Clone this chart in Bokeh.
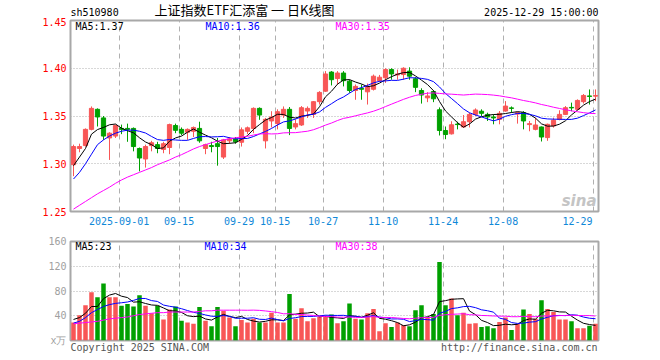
from bokeh.plotting import figure
from bokeh.layouts import column
from bokeh.models import Range1d, FixedTicker, Label, ColumnDataSource, PrintfTickFormatter
from bokeh.embed import file_html
from bokeh.resources import INLINE

# ---------------- data ----------------
opens = [1.299, 1.316, 1.319, 1.336, 1.357, 1.348, 1.327, 1.329, 1.337, 1.337,
         1.337, 1.316, 1.305, 1.319, 1.320, 1.315, 1.317, 1.340, 1.336, 1.333,
         1.334, 1.337, 1.316, 1.319, 1.321, 1.307, 1.324, 1.326, 1.3225, 1.334,
         1.337, 1.358, 1.324, 1.3448, 1.342, 1.351, 1.357, 1.3385, 1.3406, 1.3552,
         1.3517, 1.365, 1.376, 1.396, 1.3892, 1.395, 1.3865, 1.3767, 1.379, 1.3753,
         1.378, 1.387, 1.390, 1.3986, 1.393, 1.3934, 1.397, 1.389, 1.3767, 1.369,
         1.3757, 1.3565, 1.3348, 1.3313, 1.3415, 1.3385, 1.344, 1.3517, 1.355, 1.3517,
         1.349, 1.3465, 1.3552, 1.3585, 1.352, 1.3535, 1.341, 1.336, 1.3385, 1.3274,
         1.3396, 1.3465, 1.3517, 1.359, 1.357, 1.365, 1.371, 1.3708]
highs = [1.320, 1.321, 1.337, 1.360, 1.358, 1.350, 1.333, 1.341, 1.341, 1.342,
         1.338, 1.317, 1.320, 1.324, 1.323, 1.323, 1.342, 1.342, 1.338, 1.337,
         1.339, 1.344, 1.321, 1.323, 1.327, 1.326, 1.328, 1.328, 1.338, 1.339,
         1.359, 1.359, 1.348, 1.355, 1.357, 1.360, 1.3594, 1.3465, 1.3604, 1.360,
         1.3656, 1.376, 1.397, 1.397, 1.397, 1.397, 1.388, 1.383, 1.383, 1.384,
         1.3934, 1.393, 1.400, 1.400, 1.3986, 1.401, 1.401, 1.3906, 1.379, 1.375,
         1.377, 1.359, 1.339, 1.3445, 1.344, 1.351, 1.3535, 1.358, 1.357, 1.3535,
         1.3517, 1.3552, 1.3656, 1.360, 1.3545, 1.355, 1.3448, 1.348, 1.339, 1.342,
         1.3483, 1.356, 1.3604, 1.364, 1.3674, 1.373, 1.3778, 1.3778]
lows = [1.287, 1.312, 1.318, 1.335, 1.339, 1.325, 1.304, 1.327, 1.331, 1.323,
        1.313, 1.292, 1.296, 1.313, 1.311, 1.311, 1.310, 1.332, 1.330, 1.325,
        1.328, 1.322, 1.310, 1.312, 1.298, 1.305, 1.321, 1.321, 1.318, 1.331,
        1.332, 1.346, 1.316, 1.338, 1.336, 1.348, 1.330, 1.336, 1.3396, 1.348,
        1.348, 1.362, 1.3753, 1.382, 1.383, 1.381, 1.3743, 1.367, 1.367, 1.362,
        1.3767, 1.386, 1.3847, 1.388, 1.388, 1.388, 1.388, 1.375, 1.363, 1.3645,
        1.3645, 1.3296, 1.3257, 1.3306, 1.336, 1.3378, 1.338, 1.350, 1.350, 1.3448,
        1.3413, 1.3413, 1.3545, 1.3535, 1.342, 1.336, 1.334, 1.335, 1.3233, 1.324,
        1.3378, 1.3455, 1.351, 1.355, 1.356, 1.363, 1.362, 1.3656]
closes = [1.318, 1.318, 1.336, 1.358, 1.349, 1.329, 1.332, 1.340, 1.336, 1.336,
          1.318, 1.306, 1.318, 1.322, 1.316, 1.321, 1.341, 1.335, 1.332, 1.336,
          1.338, 1.324, 1.320, 1.318, 1.318, 1.325, 1.326, 1.323, 1.3355, 1.3376,
          1.358, 1.351, 1.3465, 1.349, 1.3545, 1.357, 1.337, 1.342, 1.3587, 1.358,
          1.365, 1.3747, 1.394, 1.388, 1.395, 1.387, 1.3767, 1.381, 1.378, 1.381,
          1.3917, 1.3906, 1.3986, 1.394, 1.394, 1.400, 1.3917, 1.380, 1.372, 1.371,
          1.368, 1.3348, 1.3306, 1.3408, 1.341, 1.344, 1.3517, 1.3563, 1.3528, 1.349,
          1.348, 1.3528, 1.3604, 1.358, 1.3535, 1.3448, 1.342, 1.3406, 1.328, 1.3413,
          1.3455, 1.3517, 1.3587, 1.3585, 1.3663, 1.3715, 1.3705, 1.3715]
volumes = [29, 41, 57, 78, 70, 92, 70, 70, 56, 59,
           55, 73, 56, 44, 56, 34, 50, 55, 32, 29,
           27, 54, 32, 23, 54, 48, 37, 23, 33, 29,
           35, 29, 29, 45, 29, 29, 75, 35, 52, 31,
           36, 38, 39, 42, 28, 31, 60, 35, 34, 44,
           51, 15, 28, 22, 29, 25, 23, 49, 57, 38,
           43, 127, 57, 68, 41, 45, 27, 28, 22, 23,
           20, 30, 37, 17, 27, 50, 43, 35, 65, 51,
           46, 34, 34, 31, 20, 20, 24, 27]

# moving-average values before a full window exists
ma5_head = [1.298, 1.307, 1.316, 1.331]
ma10_head = [1.284, 1.291, 1.300, 1.310, 1.320, 1.325, 1.329, 1.332, 1.334]
ma30_head = [1.2525, 1.2565, 1.2605, 1.2645, 1.2685, 1.272, 1.2755, 1.2795, 1.283, 1.286,
             1.2885, 1.291, 1.2935, 1.296, 1.299, 1.3015, 1.304, 1.307, 1.3095, 1.3125,
             1.3155, 1.318, 1.320, 1.322, 1.3237, 1.325, 1.3262, 1.3272, 1.328]
vma5_head = [34, 37, 44, 55]
vma10_head = [28, 31, 37, 45, 50, 55, 58, 60, 61]
vma30_head = [27, 28, 29, 30, 31, 33, 35, 36, 37, 38, 40, 42, 43, 44, 45, 45, 46, 46, 46, 46,
              46, 47, 48, 48, 49, 49, 49, 49, 49]

tick_index = [8, 18, 28, 34, 42, 52, 62, 72, 87]
tick_labels = ["2025-09-01", "09-15", "09-29", "10-15", "10-27", "11-10", "11-24", "12-08", "12-29"]
price_ticks = [1.25, 1.30, 1.35, 1.40, 1.45]
price_grid = [1.30, 1.35, 1.40]
vol_ticks = [0, 40, 80, 120, 160]
vol_grid = [40, 80, 120]

code = "sh510980"
title_text = "上证指数ETF汇添富 一 日K线图"
stamp = "2025-12-29 15:00:00"
price_legend = ["MA5:1.37", "MA10:1.36", "MA30:1.35"]
vol_legend = ["MA5:23", "MA10:34", "MA30:38"]
footer_texts = ["Copyright 2025 SINA.COM", "http://finance.sina.com.cn"]

# ---------------- helpers ----------------
def moving_avg(vals, w, head):
    out = []
    for i in range(len(vals)):
        if i < len(head):
            out.append(head[i])
        else:
            out.append(sum(vals[i - w + 1:i + 1]) / w)
    return out

n = len(closes)
xs = list(range(n))
UP = "#f85656"
DOWN = "#00a000"
colors = [UP if c >= o else DOWN for o, c in zip(opens, closes)]
src = ColumnDataSource(dict(
    x=xs, top=[max(o, c) for o, c in zip(opens, closes)],
    bottom=[min(o, c) for o, c in zip(opens, closes)],
    high=highs, low=lows, color=colors, vol=volumes))

ma5 = moving_avg(closes, 5, ma5_head)
ma10 = moving_avg(closes, 10, ma10_head)
ma30 = moving_avg(closes, 30, ma30_head)
vma5 = moving_avg(volumes, 5, vma5_head)
vma10 = moving_avg(volumes, 10, vma10_head)
vma30 = moving_avg(volumes, 30, vma30_head)

MONO = "DejaVu Sans Mono"
FRAME = "#a8a8a8"
GRID = "#b0b0b0"
DATE_BLUE = "#1088d8"
LINE_COLORS = ["#000000", "#0000ff", "#ff00ff"]

grid_x = [i - 0.4 for i in tick_index]
label_x = grid_x[:-1] + [grid_x[-1] - 2.6]

xr = Range1d(-0.5, n - 0.5)

W = 656
LEFT = 70
FRAME_W = 528
RIGHT = W - LEFT - FRAME_W
HEAD_H = 17
SLOT = FRAME_W / n          # pixels per trading day


def style_common(p):
    p.background_fill_color = "white"
    p.border_fill_color = "white"
    p.outline_line_color = FRAME
    p.outline_line_width = 2
    p.xgrid.ticker = FixedTicker(ticks=grid_x)
    p.xgrid.grid_line_color = GRID
    p.xgrid.grid_line_dash = "5 4"
    p.xgrid.grid_line_width = 1
    p.ygrid.grid_line_color = GRID
    p.ygrid.grid_line_dash = "1 2"
    p.ygrid.grid_line_width = 1
    for ax in [p.xaxis[0], p.yaxis[0]]:
        ax.axis_line_color = None
        ax.major_tick_line_color = None
        ax.minor_tick_line_color = None
        ax.major_tick_in = 0
        ax.major_tick_out = 0
        ax.major_label_text_font = MONO
        ax.major_label_text_font_size = "10px"


# ---------------- header strip (frame aligned with the panels below) ----------------
head = figure(width=W, height=HEAD_H, x_range=Range1d(LEFT, LEFT + FRAME_W),
              y_range=Range1d(HEAD_H, 0), output_backend="svg", toolbar_location=None,
              min_border_left=LEFT, min_border_right=RIGHT, min_border_top=0, min_border_bottom=0)
head.axis.visible = False
head.grid.visible = False
head.outline_line_color = None
head.background_fill_color = "white"
head.border_fill_color = "white"
head.add_layout(Label(x=LEFT, y=12, text=code, text_font=MONO, text_font_size="10px",
                      text_color="#000000", text_baseline="middle"))
head.add_layout(Label(x=244, y=8.5, text=title_text, text_font="Noto Sans CJK SC",
                      text_font_size="13px", text_color="#000000",
                      text_baseline="middle", text_align="center"))
head.add_layout(Label(x=LEFT + FRAME_W, y=12, text=stamp, text_font=MONO,
                      text_font_size="10px", text_color="#000000",
                      text_baseline="middle", text_align="right"))

# ---------------- price panel ----------------
p1 = figure(width=W, height=20 - HEAD_H + 191 + 20, x_range=xr, y_range=Range1d(1.25, 1.45),
            output_backend="svg", toolbar_location=None,
            min_border_left=LEFT, min_border_right=RIGHT, min_border_top=20 - HEAD_H,
            min_border_bottom=20)
style_common(p1)
p1.ygrid.ticker = FixedTicker(ticks=price_grid)
p1.yaxis.ticker = FixedTicker(ticks=price_ticks)
p1.yaxis.formatter = PrintfTickFormatter(format="%.2f")
p1.yaxis.major_label_text_color = "#ff0000"
p1.yaxis.major_label_standoff = 4
p1.xaxis.ticker = FixedTicker(ticks=label_x)
p1.xaxis.major_label_overrides = {v: t for v, t in zip(label_x, tick_labels)}
p1.xaxis.major_label_text_color = DATE_BLUE
p1.xaxis.major_label_standoff = 5

p1.segment(x0="x", y0="low", x1="x", y1="high", color="color", line_width=1, source=src)
p1.vbar(x="x", top="top", bottom="bottom", width=0.7, fill_color="color",
        line_color="color", line_width=1, source=src)
for vals, col in zip([ma5, ma10, ma30], LINE_COLORS):
    p1.line(xs, vals, line_color=col, line_width=1)

for txt, xpos, col in zip(price_legend, [5, 135, 265], LINE_COLORS):
    p1.add_layout(Label(x=xpos, y=185, x_units="screen", y_units="screen", text=txt,
                        text_font=MONO, text_font_size="10px", text_color=col,
                        text_baseline="middle"))
p1.add_layout(Label(x=526, y=11, x_units="screen", y_units="screen", text="sina",
                    text_font="DejaVu Sans", text_font_size="15px", text_font_style="bold italic",
                    text_color="#c4c4c4", text_baseline="middle", text_align="right"))

# ---------------- volume panel ----------------
p2 = figure(width=W, height=10 + 100 + 14, x_range=xr, y_range=Range1d(0, 160),
            output_backend="svg", toolbar_location=None,
            min_border_left=LEFT, min_border_right=RIGHT, min_border_top=10, min_border_bottom=14)
style_common(p2)
p2.ygrid.ticker = FixedTicker(ticks=vol_grid)
p2.yaxis.ticker = FixedTicker(ticks=vol_ticks)
p2.yaxis.major_label_overrides = {0: "x万"}
p2.yaxis.major_label_text_color = "#a0a0a0"
p2.yaxis.major_label_standoff = 4

# footer texts carried by the bottom axis of the volume panel
char_w = 6.02
copy_center = -0.5 + (len(footer_texts[0]) * char_w / 2) / SLOT
url_center = n - 0.5 - (1 + len(footer_texts[1]) * char_w / 2) / SLOT
foot_ticks = [copy_center, url_center]
p2.xaxis.ticker = FixedTicker(ticks=foot_ticks)
p2.xaxis.major_label_overrides = {v: t for v, t in zip(foot_ticks, footer_texts)}
p2.xaxis.major_label_text_color = "#555555"
p2.xaxis.major_label_standoff = 1

p2.vbar(x="x", top="vol", bottom=0, width=0.75, fill_color="color", line_color=None, source=src)
for vals, col in zip([vma5, vma10, vma30], LINE_COLORS):
    p2.line(xs, vals, line_color=col, line_width=1)

for txt, xpos, col in zip(vol_legend, [5, 134, 265], LINE_COLORS):
    p2.add_layout(Label(x=xpos, y=94, x_units="screen", y_units="screen", text=txt,
                        text_font=MONO, text_font_size="10px", text_color=col,
                        text_baseline="middle"))

layout = column(head, p1, p2)
open("out.html", "w").write(file_html(layout, INLINE))
